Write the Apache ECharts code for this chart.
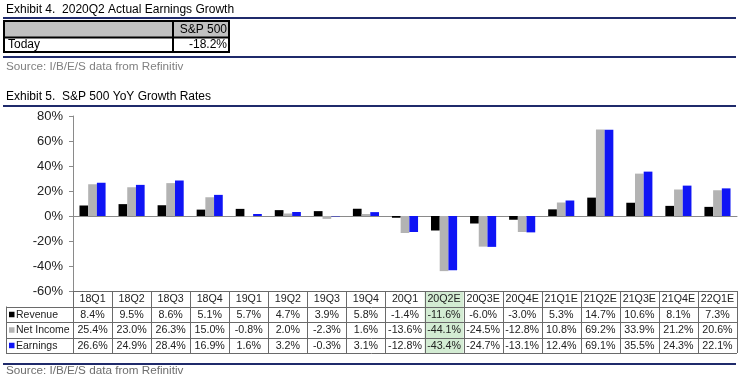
<!DOCTYPE html>
<html>
<head>
<meta charset="utf-8">
<script src="https://cdn.jsdelivr.net/npm/echarts@6/dist/echarts.min.js"></script>
<style>
html,body{margin:0;padding:0;background:#fff;}
#c{width:745px;height:381px;}
</style>
</head>
<body>
<div id="c"></div>
<script>
var categories = ['18Q1','18Q2','18Q3','18Q4','19Q1','19Q2','19Q3','19Q4','20Q1','20Q2E','20Q3E','20Q4E','21Q1E','21Q2E','21Q3E','21Q4E','22Q1E'];
var revenue   = [8.4, 9.5, 8.6, 5.1, 5.7, 4.7, 3.9, 5.8, -1.4, -11.6, -6.0, -3.0, 5.3, 14.7, 10.6, 8.1, 7.3];
var netIncome = [25.4, 23.0, 26.3, 15.0, -0.8, 2.0, -2.3, 1.6, -13.6, -44.1, -24.5, -12.8, 10.8, 69.2, 33.9, 21.2, 20.6];
var earnings  = [26.6, 24.9, 28.4, 16.9, 1.6, 3.2, -0.3, 3.1, -12.8, -43.4, -24.7, -13.1, 12.4, 69.1, 35.5, 24.3, 22.1];
var seriesNames = ['Revenue', 'Net Income', 'Earnings'];
var yTicks = [-60, -40, -20, 0, 20, 40, 60, 80];
var highlightCategory = '20Q2E';
var ex4Header = 'S&P 500';
var ex4RowLabel = 'Today';
var ex4Value = -18.2;
var title4 = 'Exhibit 4.  2020Q2 Actual Earnings Growth';
var title5 = 'Exhibit 5.  S&P 500 YoY Growth Rates';
var sourceText = 'Source: I/B/E/S data from Refinitiv';
</script>
<script>
(function(){
  var FONT = '"Liberation Sans", Arial, sans-serif';
  var colors = ['#000000', '#b3b3b3', '#0f14f5'];
  var navy = '#1f2a6b';
  var W = 745;
  var gridLeft = 73, gridRight = 8, gridTop = 116, gridBottom = 90;
  var plotW = W - gridLeft - gridRight;
  var nCat = categories.length;
  var colW = plotW / nCat;
  var allData = [revenue, netIncome, earnings];

  var g = [];
  function txt(x, y, s, opt) {
    opt = opt || {};
    g.push({type:'text', x:x, y:y, silent:true, z:10,
      style:{text:s, fill:opt.fill||'#111', font:(opt.size||11)+'px '+FONT,
        textAlign:opt.align||'left', textVerticalAlign:'middle'}});
  }
  function line(x1,y1,x2,y2,color,w){
    g.push({type:'line', silent:true, z:5, shape:{x1:x1,y1:y1,x2:x2,y2:y2},
      style:{stroke:color, lineWidth:w}});
  }
  function rect(x,y,w,h,fill,z){
    g.push({type:'rect', silent:true, z:z||1, shape:{x:x,y:y,width:w,height:h}, style:{fill:fill}});
  }

  // Exhibit 4
  txt(6, 9.5, title4, {size:12, fill:'#000'});
  line(3, 18, 736, 18, navy, 2);
  rect(4, 21, 225, 16, '#c0c0c0');
  txt(227, 29.5, ex4Header, {size:12, align:'right', fill:'#000'});
  txt(8, 45, ex4RowLabel, {size:12, fill:'#000'});
  txt(227, 45, ex4Value.toFixed(1) + '%', {size:12, align:'right', fill:'#000'});
  g.push({type:'rect', silent:true, z:6, shape:{x:4, y:21, width:225, height:31},
    style:{fill:'none', stroke:'#000', lineWidth:2}});
  line(4, 37.5, 229, 37.5, '#000', 2);
  line(173, 21, 173, 52, '#000', 2);
  line(3, 57, 736, 57, navy, 2);
  txt(6, 67, sourceText, {size:11.7, fill:'#808080'});

  // Exhibit 5 title
  txt(6, 97, title5, {size:12, fill:'#000'});
  line(3, 106, 736, 106, navy, 2);

  // Data table
  var rowY = [291, 306.5, 322, 337.5, 353];
  var tableRight = gridLeft + plotW;
  var hi = categories.indexOf(highlightCategory);
  if (hi >= 0) rect(gridLeft + hi*colW, rowY[0], colW, rowY[4]-rowY[0], '#d3ecd3', 2);
  var gridColor = '#6a6a6a';
  line(gridLeft, rowY[0]+0.5, tableRight, rowY[0]+0.5, gridColor, 1);
  for (var r = 1; r < rowY.length; r++) {
    line(6, Math.round(rowY[r])+0.5, tableRight, Math.round(rowY[r])+0.5, gridColor, 1);
  }
  line(6.5, rowY[1], 6.5, rowY[4], gridColor, 1);
  for (var c = 0; c <= nCat; c++) {
    var x = Math.round(gridLeft + c*colW) + 0.5;
    line(x, rowY[0], x, rowY[4], gridColor, 1);
  }
  for (var i = 0; i < nCat; i++) {
    var cx = gridLeft + (i + 0.5)*colW;
    txt(cx, (rowY[0]+rowY[1])/2 + 0.5, categories[i], {size:10.7, align:'center', fill:'#222'});
    for (var s = 0; s < 3; s++) {
      txt(cx, (rowY[s+1]+rowY[s+2])/2 + 0.5, allData[s][i].toFixed(1) + '%', {size:10.7, align:'center', fill:'#222'});
    }
  }
  for (var s2 = 0; s2 < 3; s2++) {
    var cy = (rowY[s2+1]+rowY[s2+2])/2;
    rect(9, cy - 2.5, 5.5, 5.5, colors[s2], 7);
    txt(16, cy + 0.5, seriesNames[s2], {size:10.5, fill:'#222'});
  }

  line(3, 364, 736, 364, navy, 2);
  txt(6, 370.5, sourceText, {size:11.7, fill:'#6e6e6e'});

  var chart = echarts.init(document.getElementById('c'), null, {renderer:'canvas'});
  chart.setOption({
    animation:false,
    backgroundColor:'#fff',
    grid:{left:gridLeft, right:gridRight, top:gridTop, bottom:gridBottom, containLabel:false},
    xAxis:{type:'category', data:categories, boundaryGap:true,
      axisLine:{onZero:true, lineStyle:{color:'#8a8a8a', width:1}},
      axisTick:{show:false}, axisLabel:{show:false}, splitLine:{show:false}},
    yAxis:{type:'value', min:yTicks[0], max:yTicks[yTicks.length-1], interval:20,
      axisLine:{show:true, lineStyle:{color:'#8a8a8a', width:1}},
      axisTick:{show:true, length:4, lineStyle:{color:'#8a8a8a'}},
      axisLabel:{formatter:'{value}%', fontSize:13, fontFamily:FONT, color:'#222', margin:10},
      splitLine:{show:false}},
    series: seriesNames.map(function(n, k){
      return {name:n, type:'bar', data:allData[k], barWidth:8.7, barGap:'0%',
        itemStyle:{color:colors[k]}, z:3};
    }),
    graphic: g
  });
})();
</script>
</body>
</html>
